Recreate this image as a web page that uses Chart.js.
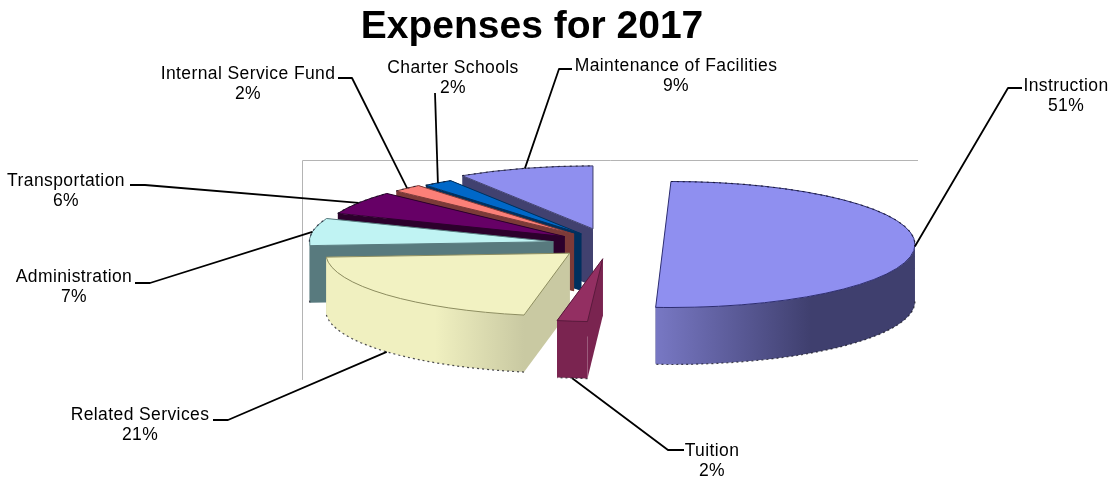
<!DOCTYPE html>
<html>
<head>
<meta charset="utf-8">
<title>Expenses for 2017</title>
<script src="https://cdn.jsdelivr.net/npm/chart.js@4/dist/chart.umd.min.js"></script>
<style>
  html, body { margin: 0; padding: 0; background: #fff; }
  canvas { display: block; }
</style>
</head>
<body>
<canvas id="expenses" width="1114" height="477"></canvas>
<script>
const categories = ["Instruction", "Tuition", "Related Services", "Administration",
  "Transportation", "Internal Service Fund", "Charter Schools", "Maintenance of Facilities"];
const shares = [51, 2, 21, 7, 6, 2, 2, 9];

const topColors = ["#8f8ff0", "#932f62", "#f2f2c2", "#c0f3f3", "#660066", "#fb8078", "#0068c8", "#8f8fef"];
const wallLight = ["#7878c4", "#7a2450", "#f0f0c0", "#587a7e", "#2c002c", "#7c3a38", "#00305e", "#41416f"];
const wallDark  = ["#3f3f6e", "#7a2450", "#c9c9a2", "#587a7e", "#2c002c", "#7c3a38", "#00305e", "#41416f"];
const rimColors = ["#2c2c70", "#5a1a3c", "#8e8e60", "#587a7e", "#2c002c", "#7c3a38", "#00305e", "#41416f"];
const wallFade = [[0, 0.6], [0, 1], [0.55, 1], [0, 1], [0, 1], [0, 1], [0, 1], [0, 1]];

// how far each slice is pulled out, share of radius
const explodeBy = [0.25, 0.235, 0.22, 0.235, 0.22, 0.215, 0.2, 0.25];

// label centre, then the leader's two bends (slice end is worked out from the arc)
const labelSpots = [[1066, 86], [712, 451], [140, 415], [74, 277], [66, 181], [248, 74], [453, 68], [676, 66]];
const leaderBends = [
  [[1008, 88], [1022, 88]],
  [[668, 450], [684, 450]],
  [[228, 420], [213, 420]],
  [[150, 283], [135, 283]],
  [[145, 185], [130, 185]],
  [[352, 78], [338, 78]],
  [[435, 93], [435, 93]],
  [[559, 69], [572, 69]]
];

const stretchX = 1.22;   // ellipse width / arc radius
const tilt = 0.315;      // ellipse height / arc radius
const depth = 57;

function outline(ctx, points) {
  ctx.beginPath();
  points.forEach((p, i) => i ? ctx.lineTo(p[0], p[1]) : ctx.moveTo(p[0], p[1]));
  ctx.closePath();
}

function dashedArc(ctx, g, cy, from, to, dash, color) {
  ctx.strokeStyle = color;
  ctx.lineWidth = 1.2;
  ctx.setLineDash(dash);
  ctx.beginPath();
  ctx.ellipse(g.cx, cy, g.rx, g.ry, 0, from, to);
  ctx.stroke();
  ctx.setLineDash([]);
}

function drawWalls(ctx, g, i) {
  const rimAt = a => [g.cx + g.rx * Math.cos(a), g.cy + g.ry * Math.sin(a)];
  const cuts = [g.start, g.end].map(a => {
    const rim = rimAt(a);
    return { y: rim[1], pts: [[g.cx, g.cy], rim, [rim[0], rim[1] + depth], [g.cx, g.cy + depth]] };
  }).sort((a, b) => a.y - b.y);

  cuts.forEach(c => {
    ctx.fillStyle = wallDark[i];
    outline(ctx, c.pts);
    ctx.fill();
  });

  // curved outer wall, only the part that faces the viewer
  const from = Math.max(g.start, 0);
  const to = Math.min(g.end, Math.PI);
  if (to > from) {
    const grad = ctx.createLinearGradient(rimAt(to)[0], 0, rimAt(from)[0], 0);
    grad.addColorStop(wallFade[i][0], wallLight[i]);
    grad.addColorStop(wallFade[i][1], wallDark[i]);
    ctx.fillStyle = grad;
    ctx.beginPath();
    ctx.ellipse(g.cx, g.cy, g.rx, g.ry, 0, from, to);
    ctx.ellipse(g.cx, g.cy + depth, g.rx, g.ry, 0, to, from, true);
    ctx.closePath();
    ctx.fill();
    dashedArc(ctx, g, g.cy + depth, from, to, [2, 3], "rgba(20,20,30,0.75)");
  }
}

function drawTop(ctx, g, i, color) {
  ctx.fillStyle = color;
  ctx.beginPath();
  // the half-plus slice has a straight cut, no notch at the centre
  if (g.end - g.start < Math.PI) ctx.moveTo(g.cx, g.cy);
  ctx.ellipse(g.cx, g.cy, g.rx, g.ry, 0, g.start, g.end);
  ctx.closePath();
  ctx.fill();
  ctx.strokeStyle = rimColors[i];
  ctx.lineWidth = 1;
  ctx.stroke();

  // rough rim on the far side of the pie
  const backStart = Math.max(g.start, Math.PI);
  if (g.end > backStart) dashedArc(ctx, g, g.cy, backStart, g.end, [2, 4], "rgba(20,20,40,0.7)");
  const backEnd = Math.min(g.end, 0);
  if (backEnd > g.start) dashedArc(ctx, g, g.cy, g.start, backEnd, [2, 4], "rgba(20,20,40,0.7)");
}

const extrudedPie = {
  id: "extrudedPie",
  beforeDatasetsDraw(chart) {
    const ctx = chart.ctx;
    const arcs = chart.getDatasetMeta(0).data;

    const slices = arcs.map((arc, i) => {
      const mid = (arc.startAngle + arc.endAngle) / 2;
      const rx = arc.outerRadius * stretchX;
      const ry = arc.outerRadius * tilt;
      return {
        start: arc.startAngle,
        end: arc.endAngle,
        mid, rx, ry,
        cx: arc.x + Math.cos(mid) * explodeBy[i] * rx,
        cy: arc.y + Math.sin(mid) * explodeBy[i] * ry
      };
    });

    // plot frame, only top and left show
    ctx.save();
    ctx.strokeStyle = "#b4b4b4";
    ctx.lineWidth = 1;
    ctx.beginPath();
    ctx.moveTo(918, 160.5);
    ctx.lineTo(302.5, 160.5);
    ctx.lineTo(302.5, 380);
    ctx.stroke();

    // back slices first, last slice sits furthest back
    for (let i = slices.length - 1; i >= 0; i--) {
      drawWalls(ctx, slices[i], i);
      drawTop(ctx, slices[i], i, arcs[i].options.backgroundColor);
    }

    // leaders
    ctx.strokeStyle = "#000";
    ctx.lineWidth = 1.8;
    ctx.lineJoin = "round";
    slices.forEach((g, i) => {
      const x = g.cx + g.rx * Math.cos(g.mid);
      let y = g.cy + g.ry * Math.sin(g.mid);
      if (Math.sin(g.mid) > 0.5) y += depth;
      ctx.beginPath();
      ctx.moveTo(x, y);
      leaderBends[i].forEach(p => ctx.lineTo(p[0], p[1]));
      ctx.stroke();
    });

    // labels
    ctx.fillStyle = "#000";
    ctx.font = "17.5px 'Liberation Sans'";
    ctx.letterSpacing = "0.4px";
    ctx.textAlign = "center";
    ctx.textBaseline = "middle";
    categories.forEach((name, i) => {
      const spot = labelSpots[i];
      ctx.fillText(name, spot[0], spot[1]);
      ctx.fillText(shares[i] + "%", spot[0], spot[1] + 20);
    });

    ctx.letterSpacing = "0px";
    ctx.font = "bold 39px 'Liberation Sans'";
    ctx.textBaseline = "alphabetic";
    ctx.fillText("Expenses for 2017", 532, 38);
    ctx.restore();
    return false;
  }
};

new Chart("expenses", {
  type: "pie",
  plugins: [extrudedPie],
  data: {
    labels: categories,
    datasets: [{
      data: shares,
      backgroundColor: topColors,
      borderWidth: 0
    }]
  },
  options: {
    responsive: false,
    animation: false,
    layout: { padding: { left: 410, right: 304, top: 44, bottom: 33 } },
    plugins: {
      legend: { display: false },
      tooltip: { enabled: false }
    }
  }
});
</script>
</body>
</html>
